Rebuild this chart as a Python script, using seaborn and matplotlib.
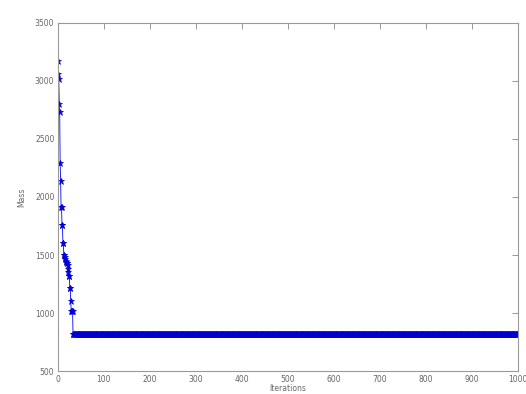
import numpy as np
import pandas as pd
import matplotlib
matplotlib.use("Agg")
import matplotlib.pyplot as plt
import seaborn as sns

# Mass recorded at the start of the run (iterations 0..32)
early_mass = [3170, 3060, 3020, 2800, 2730, 2290, 2140, 1910, 1910, 1760,
              1760, 1600, 1600, 1500, 1500, 1480, 1470, 1450, 1440, 1430,
              1430, 1410, 1380, 1350, 1320, 1320, 1215, 1215, 1100, 1020,
              1020, 1020, 1020]
# Converged mass held until the final iteration
final_mass = 820
last_iteration = 1000

x_ticks = [0, 100, 200, 300, 400, 500, 600, 700, 800, 900, 1000]
y_ticks = [500, 1000, 1500, 2000, 2500, 3000, 3500]

mass = early_mass + [final_mass] * (last_iteration + 1 - len(early_mass))
df = pd.DataFrame({"Iterations": np.arange(len(mass)), "Mass": mass})

sns.set_style("white")
plt.rcParams["font.family"] = ["DejaVu Sans"]

fig = plt.figure(figsize=(5.26, 3.94), dpi=100)
ax = fig.add_axes([0.110, 0.058, 0.874, 0.884])

sns.lineplot(data=df, x="Iterations", y="Mass", ax=ax, color="#0000ff",
             linewidth=0.6, marker="*", markersize=4.5,
             markeredgecolor="#0000cc", markerfacecolor="#0000ff",
             markeredgewidth=0.5, estimator=None)

ax.set_xlim(0, 1000)
ax.set_ylim(500, 3500)
ax.set_xticks(x_ticks)
ax.set_yticks(y_ticks)
ax.tick_params(direction="in", length=4, width=0.6, colors="#888888",
               labelsize=5.5, labelcolor="#666666", top=True, right=True,
               pad=2.5)
for side in ax.spines.values():
    side.set_color("#999999")
    side.set_linewidth(0.8)
    side.set_visible(True)
ax.set_xlabel("Iterations", fontsize=5.5, color="#666666", labelpad=0.5)
ax.set_ylabel("Mass", fontsize=5.5, color="#666666", labelpad=6)

fig.savefig("out.png", dpi=100, facecolor="white")
